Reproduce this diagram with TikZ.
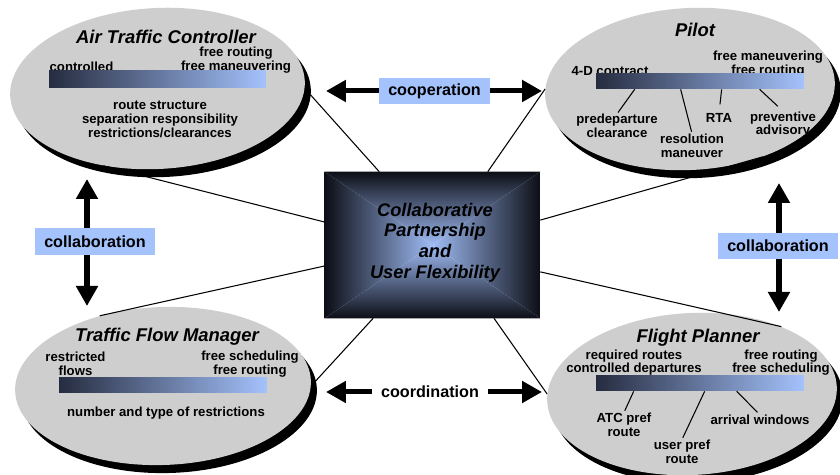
\documentclass[tikz,border=0pt]{standalone}
\usepackage{fontspec}
\setmainfont{Liberation Sans}
\usetikzlibrary{shapes.geometric,shadows,arrows.meta}
\definecolor{roleGray}{RGB}{206,206,206}
\definecolor{relBlue}{RGB}{164,194,252}
\definecolor{barDark}{RGB}{38,44,64}
\definecolor{barLight}{RGB}{164,194,252}
\definecolor{coreDark}{RGB}{12,14,22}
\definecolor{coreLight}{RGB}{160,188,245}

\begin{document}
\begin{tikzpicture}[x=0.02cm, y=-0.02cm,
        role/.style={ellipse, fill=roleGray, inner sep=0pt,
            drop shadow={shadow xshift=0.12cm, shadow yshift=-0.16cm, fill=black, opacity=1}},
        roletitle/.style={font=\fontsize{10.5}{12}\selectfont\bfseries\itshape},
        note/.style={font=\fontsize{7.5}{7.8}\selectfont\bfseries, align=center, inner sep=0pt},
        gradbar/.style={left color=barDark, right color=barLight, inner sep=0pt,
            minimum width=4.16cm, minimum height=0.3cm},
        rel/.style={font=\fontsize{9.2}{11}\selectfont\bfseries, fill=relBlue, minimum height=0.53cm},
        bigarrow/.style={line width=2.85pt, {Triangle[length=0.4cm,width=0.42cm]}-{Triangle[length=0.4cm,width=0.42cm]}},
        link/.style={line width=0.6pt},
        leader/.style={line width=0.6pt, shorten >=1pt}]
        \useasboundingbox (0,0) rectangle (840,475);

        % the four roles
        \node[role, minimum width=5.9cm, minimum height=3.22cm, rotate=3] (atc) at (157.5,88.5) {};
        \node[role, minimum width=5.8cm, minimum height=3.24cm, rotate=3] (pilot) at (690,89) {};
        \node[role, minimum width=5.92cm, minimum height=3.16cm, rotate=2] (tfm) at (163,386) {};
        \node[role, minimum width=5.8cm, minimum height=3.24cm, rotate=3] (fp) at (692,394) {};

        % centre box
        \node[minimum width=4.3cm, minimum height=2.92cm, inner sep=0pt] (core) at (432.5,245) {};
        \shade[top color=coreDark, bottom color=coreLight] (core.north west) -- (core.north east) -- (core.center) -- cycle;
        \shade[bottom color=coreDark, top color=coreLight] (core.south west) -- (core.south east) -- (core.center) -- cycle;
        \shade[left color=coreDark, right color=coreLight] (core.north west) -- (core.south west) -- (core.center) -- cycle;
        \shade[right color=coreDark, left color=coreLight] (core.north east) -- (core.south east) -- (core.center) -- cycle;
        \node[font=\fontsize{10.4}{11.7}\selectfont\bfseries\itshape, align=center] (coreText) at (435,242.5)
            {Collaborative\\Partnership\\and\\User Flexibility};

        % air traffic controller
        \node[roletitle] (atcTitle) at (166,37) {Air Traffic Controller};
        \node[note] (atcFree) at (236,60) {free routing\\free maneuvering};
        \node[note] (atcCtrl) at (81.5,67) {controlled};
        \node[gradbar, minimum width=4.34cm, minimum height=0.34cm] (atcBar) at (157.5,79.5) {};
        \node[note] (atcMeans) at (160,119.5) {route structure\\separation responsibility\\restrictions/clearances};

        % pilot
        \node[roletitle] (pilotTitle) at (695,30) {Pilot};
        \node[note] (pilotFree) at (768,64) {free maneuvering\\free routing};
        \node[note] (pilotCtrl) at (610,71) {4-D contract};
        \node[gradbar] (pilotBar) at (700,81.5) {};
        \node[note] (predep) at (617,126) {predeparture\\clearance};
        \node[note] (resol) at (692,145.5) {resolution\\maneuver};
        \node[note] (rta) at (719,118) {RTA};
        \node[note] (prevent) at (783,124.5) {preventive\\advisory};
        \draw[leader] ([xshift=0.78cm]pilotBar.south west) -- (predep.north);
        \draw[leader] ([xshift=1.7cm]pilotBar.south west) -- (resol.north);
        \draw[leader, shorten >=5pt] ([xshift=2.52cm]pilotBar.south west) -- (rta.north);
        \draw[leader, shorten >=4pt] ([xshift=3.28cm]pilotBar.south west) -- (prevent.north);

        % traffic flow manager
        \node[roletitle] (tfmTitle) at (167,337) {Traffic Flow Manager};
        \node[note] (tfmCtrl) at (75.5,364) {restricted\\flows};
        \node[note] (tfmFree) at (250,364) {free scheduling\\free routing};
        \node[gradbar] (tfmBar) at (163,385.5) {};
        \node[note] (tfmMeans) at (166,413) {number and type of restrictions};

        % flight planner
        \node[roletitle] (fpTitle) at (698,338) {Flight Planner};
        \node[note] (fpCtrl) at (634,362.5) {required routes\\controlled departures};
        \node[note] (fpFree) at (781,362.5) {free routing\\free scheduling};
        \node[gradbar] (fpBar) at (700,383.5) {};
        \node[note] (atcPref) at (624,424.5) {ATC pref\\route};
        \node[note] (userPref) at (682,451.5) {user pref\\route};
        \node[note] (arrival) at (760,420) {arrival windows};
        \draw[leader] ([xshift=0.76cm]fpBar.south west) -- (atcPref.north);
        \draw[leader] ([xshift=2.18cm]fpBar.south west) -- (userPref.north);
        \draw[leader, shorten >=2pt] ([xshift=2.82cm]fpBar.south west) -- (arrival.north);

        % lines to the centre
        \draw[link] (atc.357) -- (core.126);
        \draw[link] (atc.232) -- (core.168);
        \draw[link] (pilot.177) -- (core.53);
        \draw[link] (pilot.314) -- (core.13);
        \draw[link] (tfm.130) -- (core.191);
        \draw[link] (tfm.358) -- (core.231);
        \draw[link] (fp.34) -- (core.346);
        \draw[link] (fp.177) -- (core.310);

        % relations
        \coordinate (coopL) at (326,91);
        \coordinate (coopR) at (542,91);
        \draw[bigarrow] (coopL) -- (coopR);
        \node[rel, minimum width=2.22cm] (coop) at (434.5,91) {cooperation};

        \coordinate (collabLT) at (87,179);
        \coordinate (collabLB) at (87,306);
        \draw[bigarrow] (collabLT) -- (collabLB);
        \node[rel, minimum width=2.4cm] (collabL) at (95,241.5) {collaboration};

        \coordinate (collabRT) at (779,183);
        \coordinate (collabRB) at (779,312);
        \draw[bigarrow] (collabRT) -- (collabRB);
        \node[rel, minimum width=2.4cm] (collabR) at (778,246) {collaboration};

        \coordinate (coordL) at (326,392);
        \coordinate (coordR) at (542,392);
        \draw[bigarrow] (coordL) -- (coordR);
        \node[rel, fill=white, minimum width=2.32cm] (coord) at (430,392) {coordination};
    \end{tikzpicture}
\end{document}
